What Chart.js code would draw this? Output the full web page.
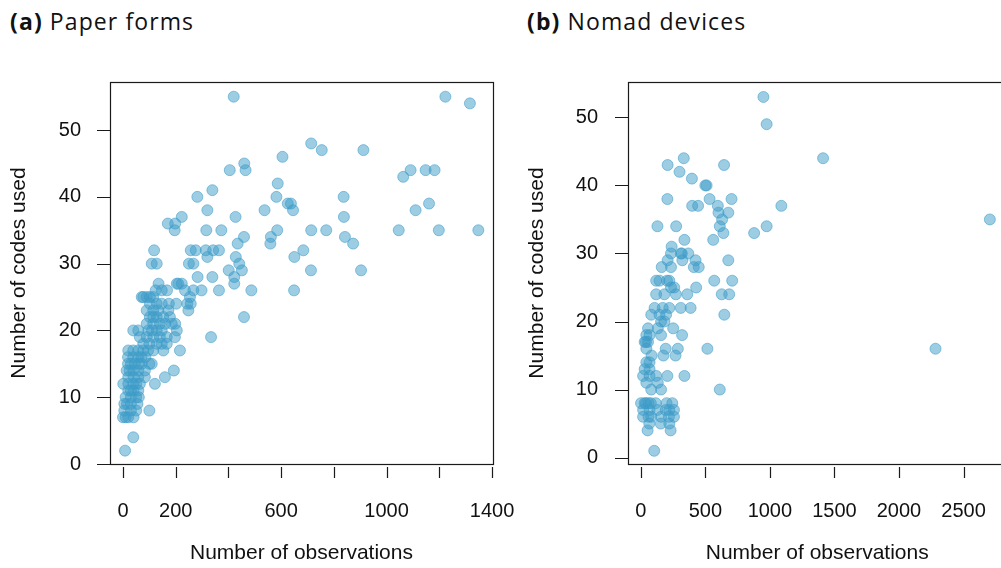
<!DOCTYPE html>
<html>
<head>
<meta charset="utf-8">
<script src="https://cdn.jsdelivr.net/npm/chart.js@4.4.0/dist/chart.umd.min.js"></script>
<style>
html, body { margin: 0; padding: 0; background: #fff; }
body { width: 1001px; height: 568px; overflow: hidden; position: relative; }
.panel-title { position: absolute; top: 5px; font-family: "Open Sans", sans-serif; font-size: 23px; letter-spacing: 1.1px; color: #111; white-space: nowrap; }
canvas { position: absolute; top: 0; }
</style>
</head>
<body>
<div class="panel-title" style="left:10px"><b>(a)</b> Paper forms</div>
<div class="panel-title" style="left:527px"><b>(b)</b> Nomad devices</div>
<canvas id="paperChart" width="520" height="568" style="left:0"></canvas>
<canvas id="nomadChart" width="495" height="568" style="left:518px"></canvas>
<script>
// (a) Paper forms: observations vs codes used
const paperObs = [420,1223,1316,714,754,912,605,460,405,465,1091,1148,1182,1063,587,339,282,582,837,625,637,1161,645,537,320,1110,427,223,838,170,198,196,316,373,585,714,771,1046,1198,1348,459,561,842,435,559,873,118,257,276,314,342,364,684,320,428,650,109,128,250,267,441,401,451,713,903,422,283,339,422,223,204,135,210,487,649,364,167,147,124,235,267,298,254,71,90,102,115,77,459,334,
  202,244,257,174,102,128,147, 248,90,115,134,172, 102,128,153,178,115, 90,115,140,185,198,160,
  39,58,96,128,147,204,110, 64,90,115,166,197,140, 77,128,147,166,100, 20,39,58,77,115,153,216,95,
  19,39,58,85,70, 19,45,71,109,30,60,100, 14,39,58,83,193,25, 20,40,58,83,159, 1,20,39,64,121,50,
  20,40,58,30, 10,30,50,60, 15,30,55,5, 5,30,50,100, 0,20,40,10, 39, 8];
const paperCodes = [55,55,54,48,47,47,46,45,44,44,44,44,44,43,42,41,40,40,40,39,39,39,38,38,38,38,37,37,37,36,36,35,35,35,35,35,35,35,35,35,34,34,34,33,33,33,32,32,32,32,32,32,32,31,31,31,30,30,30,30,30,29,29,29,29,28,28,28,27,27,27,27,27,26,26,26,26,26,26,26,26,26,25,25,25,25,25,25,22,19,
  24,24,24,24,24,24,24, 23,23,23,23,23, 22,22,22,22,22, 21,21,21,21,21,21,
  20,20,20,20,20,20,20, 19,19,19,19,19,19, 18,18,18,18,18, 17,17,17,17,17,17,17,17,
  16,16,16,16,16, 15,15,15,15,15,15,15, 14,14,14,14,14,14, 13,13,13,13,13, 12,12,12,12,12,12,
  11,11,11,11, 10,10,10,10, 9,9,9,9, 8,8,8,8, 7,7,7,7, 4, 2];

// (b) Nomad devices: observations vs codes used
const nomadObs = [950,975,1412,333,208,645,300,396,500,510,206,533,703,398,444,597,1089,602,678,630,2704,129,274,612,975,878,640,338,561,239,310,368,234,318,322,424,208,678,162,234,411,449,119,145,203,221,569,708,429,234,259,119,183,272,360,627,685,107,170,221,310,386,81,145,196,647,157,183,56,132,251,320,157,43,68,30,56,40,516,193,287,2283,43,84,175,269,43,68,30,68,206,338,18,68,119,43,132,157,81,612,2,40,78,116,244,30,60,200,18,68,129,193,221,257,18,81,157,218,257,60,66,155,221,53,231,104];
const nomadCodes = [53,49,44,44,43,43,42,41,40,40,38,38,38,37,37,37,37,36,36,35,35,34,34,34,34,33,33,32,32,31,30,30,30,30,29,29,29,29,28,28,28,28,26,26,26,26,26,26,25,25,25,24,24,24,24,24,24,22,22,22,22,22,21,21,21,21,20,20,19,19,19,18,18,18,18,17,17,17,16,16,16,16,16,15,15,15,14,14,13,13,12,12,12,12,12,11,11,10,10,10,8,8,8,8,8,8,8,8,7,7,7,7,7,7,6,6,6,6,6,6,5,5,5,4,4,1];

const paperXTicks = [0,200,400,600,800,1000,1200,1400];
const paperXLabels = [0,200,600,1000,1400];
const nomadXTicks = [0,500,1000,1500,2000,2500];
const nomadXLabels = [0,500,1000,1500,2000,2500];
const codeTicks = [0,10,20,30,40,50];

const POINT_FILL = 'rgba(60,155,200,0.5)';
const POINT_EDGE = 'rgba(60,155,200,0.55)';
const TICK_FONT = { family: '"Liberation Sans", Arial, sans-serif', size: 20 };
const TITLE_FONT = { family: '"Liberation Sans", Arial, sans-serif', size: 21 };

// box round the plot area and detached tick marks, R style
const frameTicks = {
    id: 'frameTicks',
    afterDatasetsDraw(chart) {
        const { ctx, chartArea: a, scales: { x, y } } = chart;
        ctx.save();
        ctx.strokeStyle = '#1a1a1a';
        ctx.lineWidth = 1.2;
        ctx.strokeRect(a.left + 0.5, a.top + 0.5, a.right - a.left, a.bottom - a.top);
        ctx.beginPath();
        x.ticks.forEach(t => {
            const px = Math.round(x.getPixelForValue(t.value)) + 0.5;
            ctx.moveTo(px, a.bottom + 3);
            ctx.lineTo(px, a.bottom + 14);
        });
        y.ticks.forEach(t => {
            const py = Math.round(y.getPixelForValue(t.value)) + 0.5;
            ctx.moveTo(a.left - 13, py);
            ctx.lineTo(a.left, py);
        });
        ctx.stroke();
        ctx.restore();
    }
};

function makeChart(id, xs, ys, cfg) {
    const pts = xs.map((v, i) => ({ x: v, y: ys[i] }));
    return new Chart(document.getElementById(id), {
        type: 'scatter',
        data: { datasets: [{ data: pts, backgroundColor: POINT_FILL, borderColor: POINT_EDGE, borderWidth: 1, pointRadius: 5.5 }] },
        options: {
            responsive: false, animation: false, events: [],
            layout: { padding: { top: 82, right: cfg.padRight, left: 0, bottom: 0 } },
            plugins: { legend: { display: false }, tooltip: { enabled: false } },
            scales: {
                x: {
                    type: 'linear', min: cfg.xMin, max: cfg.xMax,
                    grid: { display: false }, border: { display: false },
                    afterBuildTicks: s => { s.ticks = cfg.xTicks.map(v => ({ value: v })); },
                    afterFit: s => { s.height = 104; s.paddingLeft = 0; s.paddingRight = 0; },
                    ticks: { font: TICK_FONT, color: '#111', padding: 27, maxRotation: 0, autoSkip: false,
                        callback: v => cfg.xLabels.includes(v) ? String(v) : '' },
                    title: { display: true, text: 'Number of observations', font: TITLE_FONT, color: '#111', padding: { bottom: 2 } }
                },
                y: {
                    type: 'linear', min: cfg.yMin, max: cfg.yMax,
                    grid: { display: false }, border: { display: false },
                    afterBuildTicks: s => { s.ticks = codeTicks.map(v => ({ value: v })); },
                    afterFit: s => { s.width = 110; s.paddingTop = 0; s.paddingBottom = 0; },
                    ticks: { font: TICK_FONT, color: '#111', padding: cfg.yPad, autoSkip: false },
                    title: { display: true, text: 'Number of codes used', font: TITLE_FONT, color: '#111', padding: { top: 7 } }
                }
            }
        },
        plugins: [frameTicks]
    });
}

makeChart('paperChart', paperObs, paperCodes, {
    xMin: -49.3, xMax: 1403.6, yMin: 0, yMax: 57.2, padRight: 27, yPad: 21,
    xTicks: paperXTicks, xLabels: paperXLabels
});
makeChart('nomadChart', nomadObs, nomadCodes, {
    xMin: -99, xMax: 2833, yMin: -0.94, yMax: 55.2, padRight: 0, yPad: 22,
    xTicks: nomadXTicks, xLabels: nomadXLabels
});
</script>
</body>
</html>
